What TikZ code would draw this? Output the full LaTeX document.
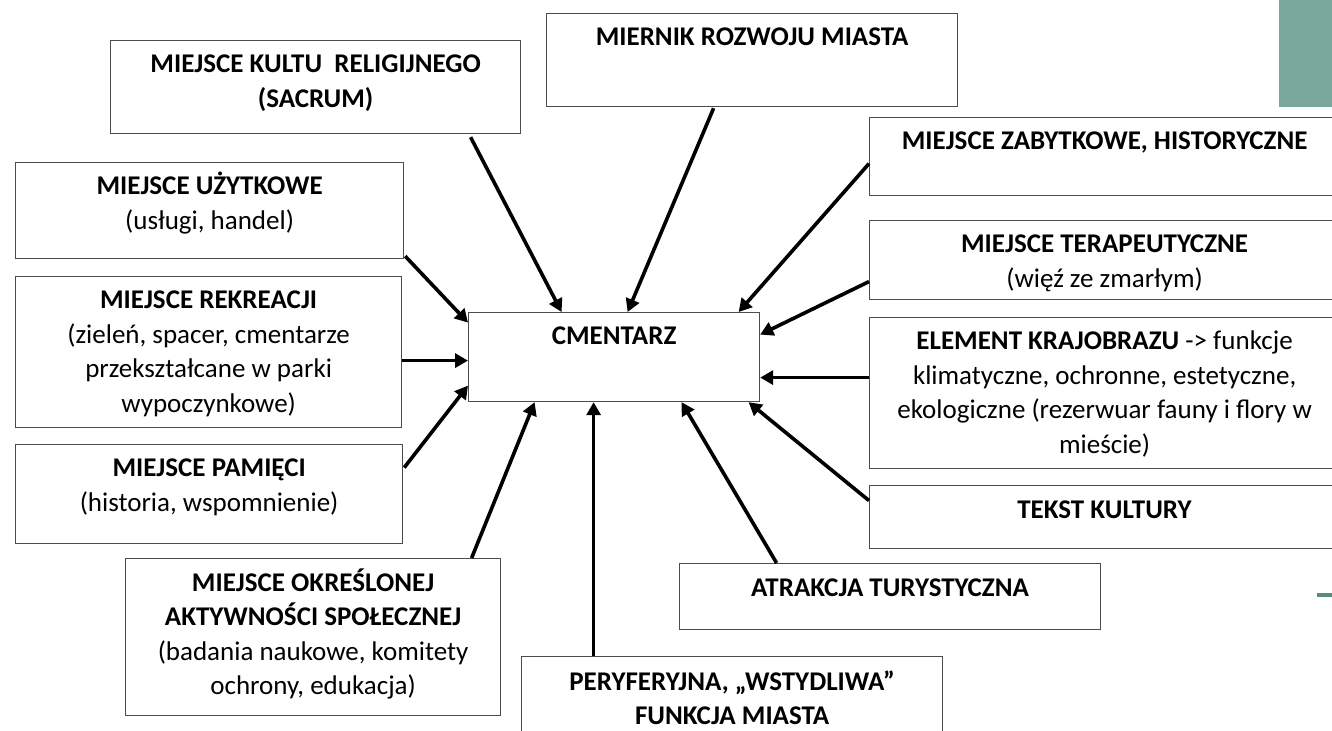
\documentclass[tikz,border=0pt]{standalone}
\usepackage{fontspec}
\setmainfont{Carlito}
\usetikzlibrary{arrows.meta,calc}

\definecolor{sage}{RGB}{122,168,156}
\definecolor{sagedark}{RGB}{90,140,125}

\begin{document}
\begin{tikzpicture}[
    x=0.5pt,y=-0.5pt,
    >={Triangle[length=6.5pt,width=7pt]},
    box/.style={draw=black!70,line width=0.6pt,inner sep=0pt,anchor=north west},
    txt/.style={anchor=base,yshift=-16.5pt,text width=#1,align=flush center,inner sep=0pt,
                font=\fontsize{13.5}{17.25}\selectfont},
    link/.style={->,line width=1.8pt,black},
]
\clip (0,0) rectangle (1332,731);

% ---- slide decoration ----
\fill[sage] (1279,0) rectangle (1332,107);
\fill[sagedark] (1317,593) rectangle (1332,597);

% ---- centre ----
\node[box,minimum width=145.5pt,minimum height=44.5pt,
      label={[txt=145.5pt]north:\textbf{CMENTARZ}}] (cm) at (468,312) {};

% ---- top row ----
\node[box,minimum width=205pt,minimum height=46.5pt,
      label={[txt=205pt]north:{\textbf{MIEJSCE KULTU\ \ RELIGIJNEGO}\\\textbf{(SACRUM)}}}] (kult) at (110,40) {};
\node[box,minimum width=205.5pt,minimum height=46.5pt,
      label={[txt=205.5pt]north:\textbf{MIERNIK ROZWOJU MIASTA}}] (miernik) at (546,13) {};

% ---- right column ----
\node[box,minimum width=235pt,minimum height=39pt,
      label={[txt=235pt]north:\textbf{MIEJSCE ZABYTKOWE, HISTORYCZNE}}] (zabytki) at (869,117) {};
\node[box,minimum width=235pt,minimum height=39.5pt,
      label={[txt=235pt]north:{\textbf{MIEJSCE TERAPEUTYCZNE}\\(więź ze zmarłym)}}] (terapia) at (869,220) {};
\node[box,minimum width=235pt,minimum height=75.5pt,
      label={[txt=235pt]north:{\textbf{ELEMENT KRAJOBRAZU} -> funkcje\\klimatyczne, ochronne, estetyczne,\\ekologiczne (rezerwuar fauny i flory w\\mieście)}}] (krajobraz) at (869,317) {};
\node[box,minimum width=235pt,minimum height=31.5pt,
      label={[txt=235pt]north:\textbf{TEKST KULTURY}}] (tekst) at (869,485) {};

% ---- bottom row ----
\node[box,minimum width=210.5pt,minimum height=33pt,
      label={[txt=210.5pt]north:\textbf{ATRAKCJA TURYSTYCZNA}}] (atrakcja) at (679,563) {};
\node[box,minimum width=210.5pt,minimum height=45pt,
      label={[txt=210.5pt,yshift=-0.5pt]north:{\textbf{PERYFERYJNA, „WSTYDLIWA”}\\\textbf{FUNKCJA MIASTA}}}] (peryf) at (521,656) {};
\node[box,minimum width=187.5pt,minimum height=78.5pt,
      label={[txt=187.5pt]north:{\textbf{MIEJSCE OKREŚLONEJ}\\\textbf{AKTYWNOŚCI SPOŁECZNEJ}\\(badania naukowe, komitety\\ochrony, edukacja)}}] (aktywnosc) at (125,558) {};

% ---- left column ----
\node[box,minimum width=194pt,minimum height=48pt,
      label={[txt=194pt]north:{\textbf{MIEJSCE UŻYTKOWE}\\(usługi, handel)}}] (uzytkowe) at (15,162) {};
\node[box,minimum width=193pt,minimum height=75.5pt,
      label={[txt=193pt]north:{\textbf{MIEJSCE REKREACJI}\\(zieleń, spacer, cmentarze\\przekształcane w parki\\wypoczynkowe)}}] (rekreacja) at (15,276) {};
\node[box,minimum width=193.5pt,minimum height=49.5pt,
      label={[txt=193.5pt]north:{\textbf{MIEJSCE PAMIĘCI}\\(historia, wspomnienie)}}] (pamiec) at (15,444) {};

% ---- arrows into the centre ----
\draw[link] ($(kult.south)+(155,3)$) -- ($(cm.north)+(-52.5,0)$);
\draw[link] ($(miernik.south)+(-38.5,1)$) -- ($(cm.north)+(13.5,0)$);
\draw[link] ($(zabytki.west)+(0,7)$) -- ($(cm.north)+(124.5,0)$);
\draw[link] ($(terapia.west)+(0,21.5)$) -- ($(cm.east)+(0,-22.5)$);
\draw[link] ($(krajobraz.west)+(0,-15.5)$) -- ($(cm.east)+(0,20.5)$);
\draw[link] ($(tekst.west)+(0,-16.5)$) -- ($(cm.south)+(134.5,0)$);
\draw[link] ($(atrakcja.north)+(-113.5,0)$) -- ($(cm.south)+(67.5,0)$);
\draw[link] ($(peryf.north)+(-138.5,0)$) -- ($(cm.south)+(-20.5,0)$);
\draw[link] ($(aktywnosc.north)+(158.5,0)$) -- ($(cm.south)+(-79.5,0)$);
\draw[link] ($(pamiec.east)+(1,-26.5)$) -- ($(cm.west)+(0,28.5)$);
\draw[link] ($(rekreacja.east)+(0,8.5)$) -- ($(cm.west)+(0,3.5)$);
\draw[link] ($(uzytkowe.south east)+(1,-3)$) -- ($(cm.west)+(0,-34.5)$);

\end{tikzpicture}
\end{document}
